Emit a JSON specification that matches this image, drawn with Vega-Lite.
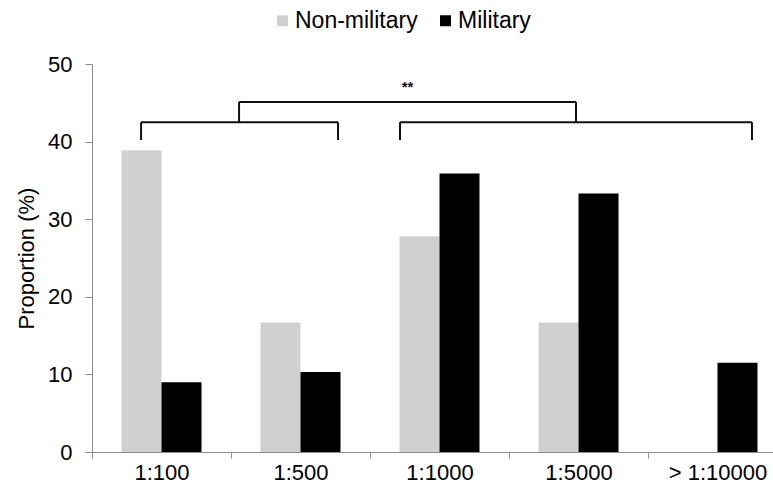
{
  "$schema": "https://vega.github.io/schema/vega-lite/v6.json",
  "width": 681,
  "height": 388,
  "autosize": {"type": "none"},
  "padding": {"left": 92, "top": 64, "right": 0, "bottom": 38},
  "config": {
    "view": {"stroke": null},
    "font": "Liberation Sans",
    "axis": {"domainColor": "#8c8c8c", "tickColor": "#8c8c8c", "labelColor": "#000000", "titleColor": "#000000", "grid": false, "labelFont": "Liberation Sans", "titleFont": "Liberation Sans"},
    "legend": {"labelFont": "Liberation Sans"}
  },
  "datasets": {
    "bars": [
      {"ratio": "1:100", "group": "Non-military", "value": 38.9},
      {"ratio": "1:100", "group": "Military", "value": 9.0},
      {"ratio": "1:500", "group": "Non-military", "value": 16.7},
      {"ratio": "1:500", "group": "Military", "value": 10.3},
      {"ratio": "1:1000", "group": "Non-military", "value": 27.8},
      {"ratio": "1:1000", "group": "Military", "value": 35.9},
      {"ratio": "1:5000", "group": "Non-military", "value": 16.7},
      {"ratio": "1:5000", "group": "Military", "value": 33.3},
      {"ratio": "> 1:10000", "group": "Non-military", "value": 0},
      {"ratio": "> 1:10000", "group": "Military", "value": 11.5}
    ],
    "brackets": [
      {"x": 0.353, "x2": 1.770, "y": 42.5, "y2": 42.5},
      {"x": 0.353, "x2": 0.353, "y": 40.2, "y2": 42.5},
      {"x": 1.770, "x2": 1.770, "y": 40.2, "y2": 42.5},
      {"x": 2.216, "x2": 4.748, "y": 42.5, "y2": 42.5},
      {"x": 2.216, "x2": 2.216, "y": 40.2, "y2": 42.5},
      {"x": 4.748, "x2": 4.748, "y": 40.2, "y2": 42.5},
      {"x": 1.058, "x2": 3.482, "y": 45.1, "y2": 45.1},
      {"x": 1.058, "x2": 1.058, "y": 42.5, "y2": 45.1},
      {"x": 3.482, "x2": 3.482, "y": 42.5, "y2": 45.1}
    ],
    "sig": [
      {"x": 2.27, "y": 47.0, "label": "**"}
    ]
  },
  "layer": [
    {
      "data": {"name": "bars"},
      "mark": {"type": "bar"},
      "encoding": {
        "x": {
          "field": "ratio", "type": "nominal",
          "sort": ["1:100", "1:500", "1:1000", "1:5000", "> 1:10000"],
          "scale": {"range": [0, 695], "paddingInner": 0, "paddingOuter": 0},
          "axis": {"title": null, "labelAngle": 0, "labelFontSize": 22, "tickBand": "extent", "tickSize": 6, "labelPadding": 4, "domainWidth": 1}
        },
        "xOffset": {
          "field": "group", "type": "nominal",
          "sort": ["Non-military", "Military"],
          "scale": {"paddingOuter": 0.7375, "paddingInner": 0}
        },
        "y": {
          "field": "value", "type": "quantitative",
          "scale": {"domain": [0, 50], "nice": false},
          "axis": {"title": "Proportion (%)", "values": [0, 10, 20, 30, 40, 50], "labelFontSize": 22, "titleFontSize": 22, "titleFontWeight": "normal", "tickSize": 7, "labelPadding": 13, "titleX": -66, "titleY": 194, "titleAngle": -90, "titleBaseline": "middle", "titleAlign": "center"}
        },
        "color": {
          "field": "group", "type": "nominal",
          "sort": ["Non-military", "Military"],
          "scale": {"domain": ["Non-military", "Military"], "range": ["#d0d0d0", "#000000"]},
          "legend": {"title": null, "orient": "none", "direction": "horizontal", "legendX": 179, "legendY": -55, "symbolType": "square", "symbolSize": 121, "symbolStrokeWidth": 0, "labelFontSize": 23, "labelColor": "#000000", "columnPadding": 16, "labelOffset": 1}
        }
      }
    },
    {
      "data": {"name": "brackets"},
      "mark": {"type": "rule", "color": "#111111", "strokeWidth": 2},
      "encoding": {
        "x": {"field": "x", "type": "quantitative", "scale": {"domain": [0, 5], "range": [0, 695], "nice": false, "zero": false}, "axis": null},
        "x2": {"field": "x2"},
        "y": {"field": "y", "type": "quantitative"},
        "y2": {"field": "y2"}
      }
    },
    {
      "data": {"name": "sig"},
      "mark": {"type": "text", "fontSize": 15, "fontWeight": "bold", "color": "#111111", "baseline": "middle"},
      "encoding": {
        "x": {"field": "x", "type": "quantitative", "scale": {"domain": [0, 5], "range": [0, 695], "nice": false, "zero": false}, "axis": null},
        "y": {"field": "y", "type": "quantitative"},
        "text": {"field": "label"}
      }
    }
  ],
  "resolve": {"scale": {"x": "independent", "xOffset": "independent"}, "axis": {"x": "independent"}}
}
